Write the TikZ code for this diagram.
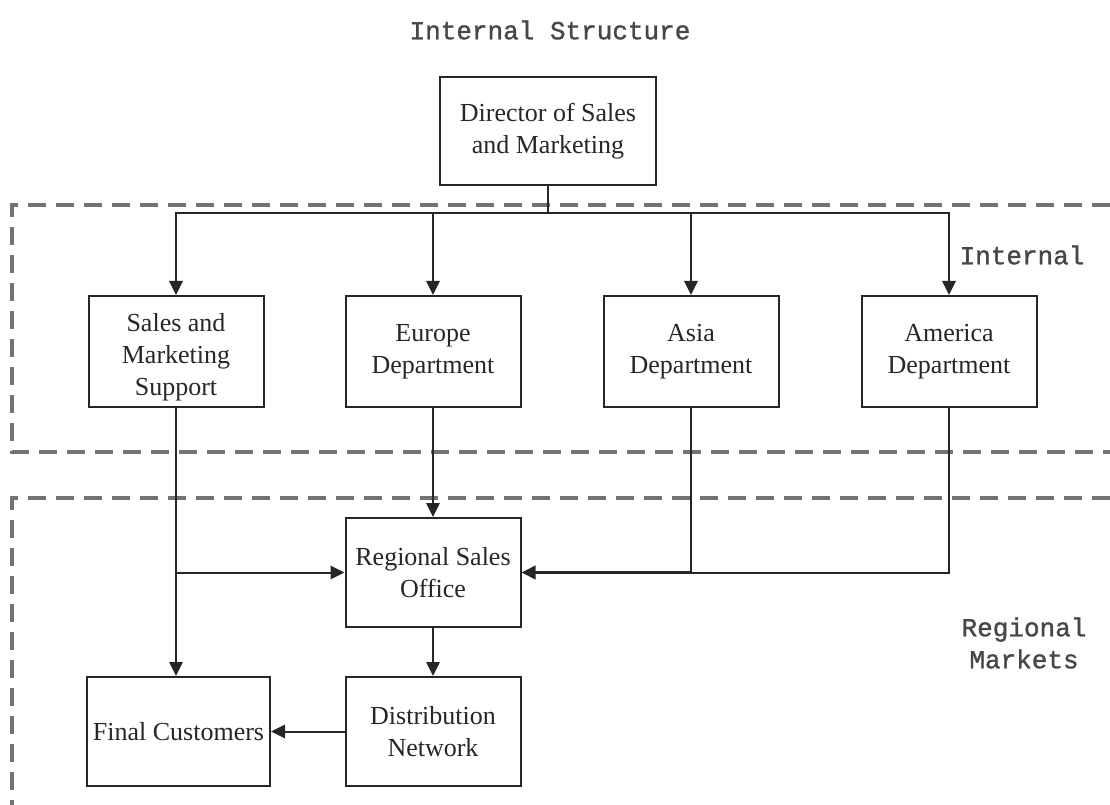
\documentclass[tikz,border=0pt]{standalone}
\usepackage{fontspec}
\setmainfont{Liberation Serif}
\newfontfamily\labelmono[FakeBold=1.2]{Liberation Mono}
\usetikzlibrary{arrows.meta}
\begin{document}
\begin{tikzpicture}[x=0.75pt,y=-0.75pt,
  box/.style={draw=black!85,line width=1.5pt,align=center,inner sep=2pt,
    font=\fontsize{19.5}{24}\selectfont,text=black!85},
  rowbox/.style={box,minimum width=131.25pt,minimum height=83.25pt},
  link/.style={draw=black!85,line width=1.5pt},
  arr/.style={link,-{Triangle[length=10.5pt,width=10pt]}},
  zone/.style={draw=black!55,line width=2.4pt,dash pattern=on 13.5pt off 7.5pt},
  tag/.style={font=\labelmono\fontsize{19.5}{24}\selectfont,text=black!72,align=center}]
\useasboundingbox (0,0) rectangle (1110,805);

% zone outlines
\draw[zone] (1110,205) -- (12,205) -- (12,452) -- (1110,452);
\draw[zone] (1110,498) -- (12,498) -- (12,805);

% headings
\node[tag] (title) at (550,30) {Internal Structure};
\node[tag] (internal) at (1022,255) {Internal};
\node[tag] (regional) at (1024,643) {Regional\\Markets};

% boxes
\node[box,minimum width=162pt,minimum height=81pt] (dir) at (548,131) {Director of Sales\\and Marketing};
\node[rowbox] (sms) at (176,351.5) {\rule{0pt}{22.5pt}Sales and\\Marketing\\Support};
\node[rowbox] (eur) at (433,351.5) {Europe\\Department};
\node[rowbox] (asia) at (691,351.5) {Asia\\Department};
\node[rowbox] (amer) at (949,351.5) {America\\Department};
\node[rowbox,minimum height=81.75pt] (rso) at (433,572.5) {Regional Sales\\Office};
\node[rowbox,minimum height=81.75pt] (dn) at (433,731.5) {Distribution\\Network};
\node[rowbox,minimum width=137.25pt,minimum height=81.75pt] (fc) at (178.5,731.5) {Final Customers};

% reporting lines
\coordinate (bus) at (548,213);
\draw[link] (dir.south) -- (bus);
\draw[arr] (bus) -| (sms.north);
\draw[arr] (bus) -| (eur.north);
\draw[arr] (bus) -| (asia.north);
\draw[arr] (bus) -| (amer.north);

% flows into the regional markets
\coordinate (join) at (sms.south |- rso.west);
\draw[arr] (sms.south) -- (sms.south |- fc.north);
\draw[arr] (join) -- (rso.west);
\draw[arr] (eur.south) -- (rso.north);
\coordinate (asiaturn) at (asia.south |- rso.east);
\draw[arr,line width=2pt] (asia.south) -- (asiaturn) -- (rso.east);
\draw[link] (amer.south) |- (asiaturn);
\draw[arr] (rso.south) -- (dn.north);
\draw[arr] (dn.west) -- (fc.east);
\end{tikzpicture}
\end{document}
